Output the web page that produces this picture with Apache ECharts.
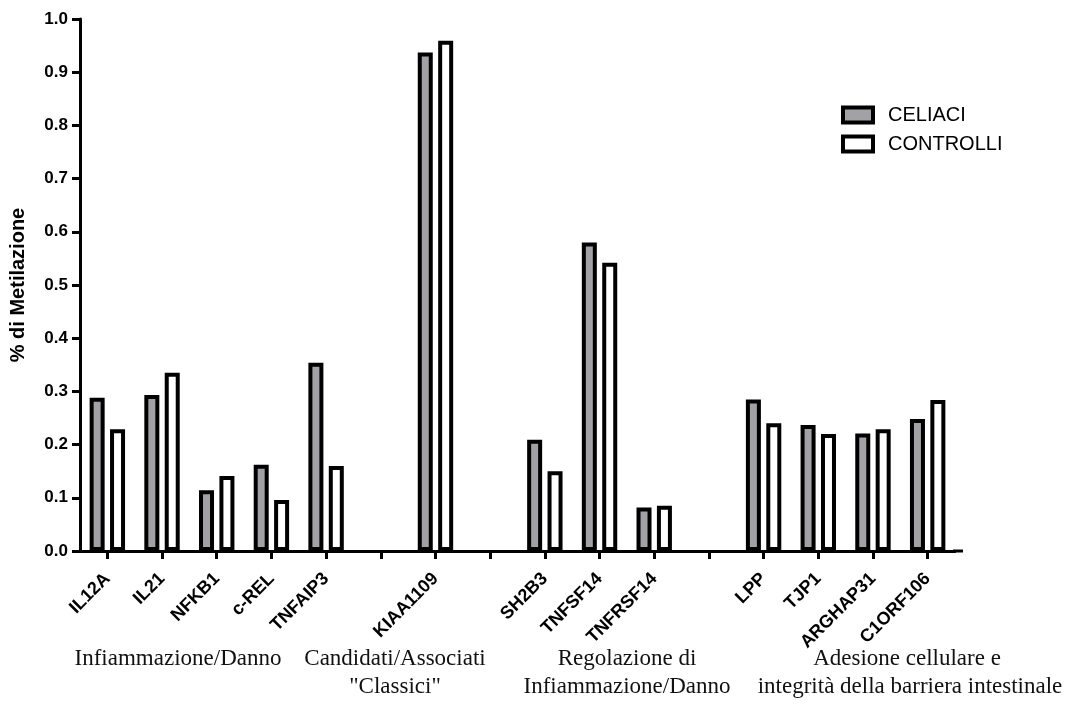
<!DOCTYPE html>
<html>
<head>
<meta charset="utf-8">
<script src="https://cdn.jsdelivr.net/npm/echarts@6/dist/echarts.min.js"></script>
<style>
  html, body { margin: 0; padding: 0; background: #fff; }
  #chart { width: 1067px; height: 704px; }
</style>
</head>
<body>
<div id="chart"></div>
<script>
// Gene names; blank entries (distinct run of spaces) separate the functional groups
const categories = ['IL12A', 'IL21', 'NFKB1', 'c-REL', 'TNFAIP3', ' ', 'KIAA1109', '  ',
  'SH2B3', 'TNFSF14', 'TNFRSF14', '   ', 'LPP', 'TJP1', 'ARGHAP31', 'C1ORF106'];

// Methylation fraction per gene
const celiaci = [0.288, 0.293, 0.114, 0.162, 0.354, null, 0.937, null,
  0.209, 0.580, 0.082, null, 0.285, 0.237, 0.221, 0.248];
const controlli = [0.229, 0.335, 0.141, 0.096, 0.160, null, 0.959, null,
  0.150, 0.542, 0.085, null, 0.240, 0.220, 0.229, 0.284];

const seriesNames = ['CELIACI', 'CONTROLLI'];
const yTicks = { min: 0, max: 1, step: 0.1 };

// Group captions drawn under the gene labels
const groupCaptions = [
  { text: 'Infiammazione/Danno', x: 178, y: 659 },
  { text: 'Candidati/Associati', x: 395, y: 659 },
  { text: '"Classici"', x: 395, y: 687 },
  { text: 'Regolazione di', x: 627, y: 659 },
  { text: 'Infiammazione/Danno', x: 627, y: 687 },
  { text: 'Adesione cellulare e', x: 907, y: 659 },
  { text: 'integrità della barriera intestinale', x: 910, y: 687 }
];

const SANS = 'Arial, "Liberation Sans", Helvetica, sans-serif';
const SERIF = '"Times New Roman", "Liberation Serif", serif';

const chart = echarts.init(document.getElementById('chart'), null, { renderer: 'canvas' });

const barStyle = (fill) => ({
  color: fill,
  borderColor: '#000',
  borderWidth: 4
});

const captionGraphics = groupCaptions.map((c) => ({
  type: 'text',
  x: c.x,
  y: c.y,
  style: {
    text: c.text,
    fontFamily: SERIF,
    fontSize: 23,
    fill: '#111',
    align: 'center',
    verticalAlign: 'middle'
  }
}));

chart.setOption({
  animation: false,
  backgroundColor: '#fff',
  grid: { left: 75, top: 19, width: 880, height: 532, containLabel: false },
  legend: {
    orient: 'vertical',
    left: 841,
    top: 105,
    padding: 0,
    itemWidth: 30,
    itemHeight: 15,
    itemGap: 9,
    icon: 'rect',
    data: seriesNames,
    itemStyle: { borderColor: '#000', borderWidth: 4 },
    textStyle: { fontFamily: SANS, fontSize: 20, color: '#000', padding: [0, 0, 0, 10], lineHeight: 20 }
  },
  xAxis: {
    type: 'category',
    data: categories,
    boundaryGap: true,
    axisLine: { show: true, lineStyle: { color: '#000', width: 3 } },
    axisTick: { show: true, alignWithLabel: true, interval: 0, length: 8, lineStyle: { color: '#000', width: 3 } },
    axisLabel: {
      interval: 0,
      rotate: 45,
      margin: 25,
      fontFamily: SANS,
      fontWeight: 'bold',
      fontSize: 18,
      color: '#000'
    },
    splitLine: { show: false }
  },
  yAxis: {
    type: 'value',
    min: yTicks.min,
    max: yTicks.max,
    interval: yTicks.step,
    name: '% di Metilazione',
    nameLocation: 'middle',
    nameGap: 52,
    nameTextStyle: { fontFamily: SANS, fontWeight: 'bold', fontSize: 20, color: '#000' },
    axisLine: { show: true, lineStyle: { color: '#000', width: 3 } },
    axisTick: { show: true, length: 8, lineStyle: { color: '#000', width: 3 } },
    axisLabel: {
      margin: 12,
      fontFamily: SANS,
      fontWeight: 'bold',
      fontSize: 17,
      color: '#000',
      formatter: (v) => v.toFixed(1)
    },
    splitLine: { show: false }
  },
  series: [
    {
      name: seriesNames[0],
      type: 'bar',
      data: celiaci,
      barWidth: 15,
      barGap: '36%',
      itemStyle: barStyle('#a2a1a6')
    },
    {
      name: seriesNames[1],
      type: 'bar',
      data: controlli,
      barWidth: 15,
      barGap: '36%',
      itemStyle: barStyle('#ffffff')
    }
  ],
  graphic: captionGraphics
});

// The baseline runs a few pixels past the last category band
const zeroY = chart.convertToPixel({ yAxisIndex: 0 }, 0);
const gridRight = 75 + 880;
chart.setOption({
  graphic: captionGraphics.concat([{
    type: 'line',
    shape: { x1: gridRight - 2, y1: zeroY, x2: gridRight + 8, y2: zeroY },
    style: { stroke: '#000', lineWidth: 3 }
  }])
});
</script>
</body>
</html>
